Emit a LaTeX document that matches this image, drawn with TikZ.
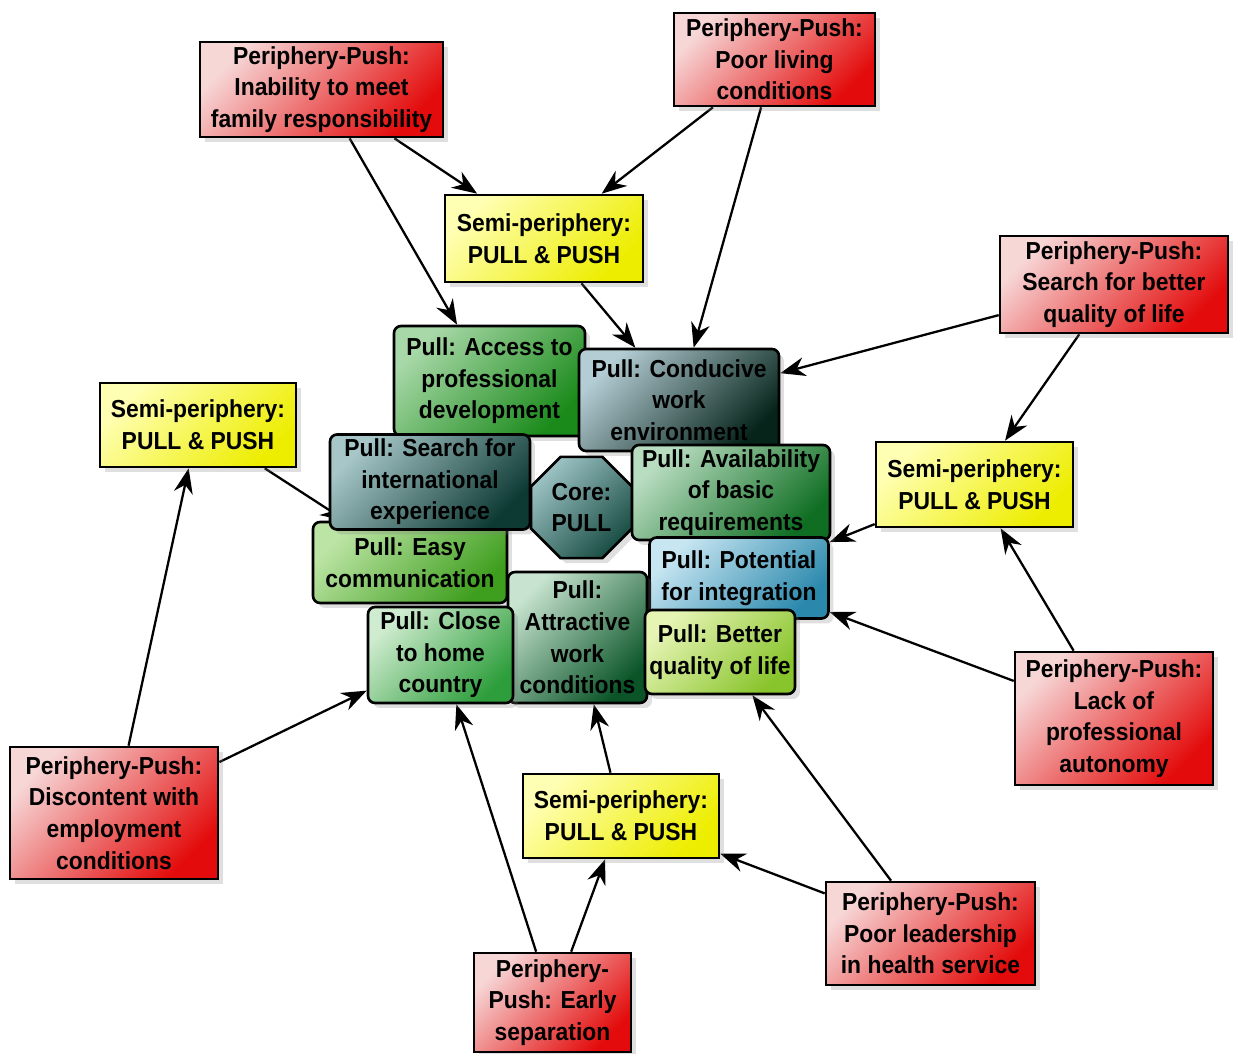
\documentclass[tikz,border=0pt]{standalone}
\usepackage{fontspec}
\setmainfont{Liberation Sans}[FakeStretch=0.93]
\usetikzlibrary{arrows.meta,shapes.geometric,shadows,backgrounds}
\definecolor{pushlt}{HTML}{F7D6D6}
\definecolor{pushdk}{HTML}{E30B0B}
\definecolor{semilt}{HTML}{FFFFB4}
\definecolor{semidk}{HTML}{EDED00}
\definecolor{devlt}{HTML}{A8D8A8}
\definecolor{devdk}{HTML}{1A8A1A}
\definecolor{envlt}{HTML}{B4CCD4}
\definecolor{envdk}{HTML}{06241A}
\definecolor{intllt}{HTML}{A6C6C8}
\definecolor{intldk}{HTML}{0E3A34}
\definecolor{corelt}{HTML}{9CC2C4}
\definecolor{coredk}{HTML}{1A4E44}
\definecolor{reqlt}{HTML}{B8DCC0}
\definecolor{reqdk}{HTML}{0F6E22}
\definecolor{commlt}{HTML}{BCE4A4}
\definecolor{commdk}{HTML}{3E9E1E}
\definecolor{integlt}{HTML}{C8E6F2}
\definecolor{integdk}{HTML}{2A88AC}
\definecolor{attrlt}{HTML}{C8E4D0}
\definecolor{attrdk}{HTML}{0A5428}
\definecolor{homelt}{HTML}{D0ECD0}
\definecolor{homedk}{HTML}{2E9E3C}
\definecolor{lifelt}{HTML}{E6F4B4}
\definecolor{lifedk}{HTML}{88C42C}
\tikzset{
  box/.style={draw, line width=1.5pt, align=center, inner sep=2pt,
    font=\fontsize{14}{18}\selectfont\bfseries,
    drop shadow={opacity=.25, shadow xshift=1mm, shadow yshift=-1mm}},
  grad/.style 2 args={top color=#1, bottom color=#2, shading angle=45},
  wh/.style 2 args={minimum width=#1, minimum height=#2},
  push/.style={box, grad={pushlt}{pushdk}},
  semi/.style={box, grad={semilt}{semidk}},
  pull/.style={box, rounded corners=4pt},
  flow/.style={-{Stealth[length=5mm, width=3.8mm]}, line width=1.3pt},
}

\begin{document}
\begin{tikzpicture}[x=0.02cm, y=-0.02cm]
  \useasboundingbox (0,0) rectangle (1234,1054);

  % periphery: push factors
  \node[push, wh={4.86cm}{1.9cm}] (famresp) at (321.5,89.5) {Periphery-Push:\\Inability to meet\\family responsibility};
  \node[push, wh={4.02cm}{1.86cm}] (living) at (774.5,59.5) {Periphery-Push:\\Poor living\\conditions};
  \node[push, wh={4.56cm}{1.94cm}] (qol) at (1114,284.5) {Periphery-Push:\\Search for better\\quality of life};
  \node[push, wh={3.96cm}{2.66cm}] (autonomy) at (1114,718.5) {Periphery-Push:\\Lack of\\professional\\autonomy};
  \node[push, wh={4.18cm}{2.06cm}] (leadership) at (930.5,933.5) {Periphery-Push:\\Poor leadership\\in health service};
  \node[push, wh={3.14cm}{1.98cm}] (separation) at (552.5,1002.5) {Periphery-\\Push: Early\\separation};
  \node[push, wh={4.16cm}{2.64cm}] (discontent) at (114,813) {Periphery-Push:\\Discontent with\\employment\\conditions};

  % semi-periphery
  \node[semi, wh={3.96cm}{1.74cm}] (semitop) at (544,238.5) {Semi-periphery:\\PULL \& PUSH};
  \node[semi, wh={3.92cm}{1.68cm}] (semileft) at (198,425) {Semi-periphery:\\PULL \& PUSH};
  \node[semi, wh={3.94cm}{1.7cm}] (semiright) at (974.5,484.5) {Semi-periphery:\\PULL \& PUSH};
  \node[semi, wh={3.92cm}{1.68cm}] (semibottom) at (621,816) {Semi-periphery:\\PULL \& PUSH};

  % core: pull factors
  \node[pull, wh={3.82cm}{2.2cm}, grad={devlt}{devdk}] (profdev) at (489.5,381) {Pull: Access to\\professional\\development};
  \node[pull, wh={4cm}{2.04cm}, grad={envlt}{envdk}] (workenv) at (679,400) {Pull: Conducive\\work\\environment};
  \node[pull, wh={3.88cm}{1.62cm}, grad={commlt}{commdk}] (easycomm) at (410,562.5) {Pull: Easy\\communication};
  \node[pull, wh={4cm}{1.9cm}, grad={intllt}{intldk}] (intlexp) at (430,482) {Pull: Search for\\international\\experience};
  \node[box, regular polygon, regular polygon sides=8, minimum size=2.19cm, inner sep=0pt,
    grad={corelt}{coredk}] (core) at (581.5,507.5) {Core:\\PULL};
  \node[pull, wh={3.96cm}{1.9cm}, grad={reqlt}{reqdk}] (basicreq) at (731,492.5) {Pull: Availability\\of basic\\requirements};
  \node[pull, wh={3.58cm}{1.62cm}, grad={integlt}{integdk}] (integration) at (739,578) {Pull: Potential\\for integration};
  \node[pull, wh={2.78cm}{2.62cm}, grad={attrlt}{attrdk}] (attractive) at (577.5,637.5) {Pull:\\Attractive\\work\\conditions};
  \node[pull, wh={2.9cm}{1.92cm}, grad={homelt}{homedk}] (homecountry) at (440.5,655) {Pull: Close\\to home\\country};
  \node[pull, wh={3cm}{1.68cm}, grad={lifelt}{lifedk}] (betterqol) at (720,652) {Pull: Better\\quality of life};

  \begin{scope}[on background layer]
    \draw[flow] (famresp) -- (semitop);
    \draw[flow] (famresp) -- (profdev);
    \draw[flow] (living) -- (semitop);
    \draw[flow] (living) -- (workenv);
    \draw[flow] (semitop) -- (workenv);
    \draw[flow] (qol) -- (workenv);
    \draw[flow] (qol) -- (semiright);
    \draw[flow] (semiright) -- (integration);
    \draw[flow] (autonomy) -- (semiright);
    \draw[flow] (autonomy) -- (integration);
    \draw[flow] (leadership) -- (semibottom);
    \draw[flow] (leadership) -- (betterqol);
    \draw[flow] (separation) -- (semibottom);
    \draw[flow] (separation) -- (homecountry);
    \draw[flow] (semibottom) -- (attractive);
    \draw[flow] (discontent) -- (semileft);
    \draw[flow] (discontent) -- (homecountry);
    \draw[flow] (semileft) -- (easycomm);
  \end{scope}
\end{tikzpicture}
\end{document}
